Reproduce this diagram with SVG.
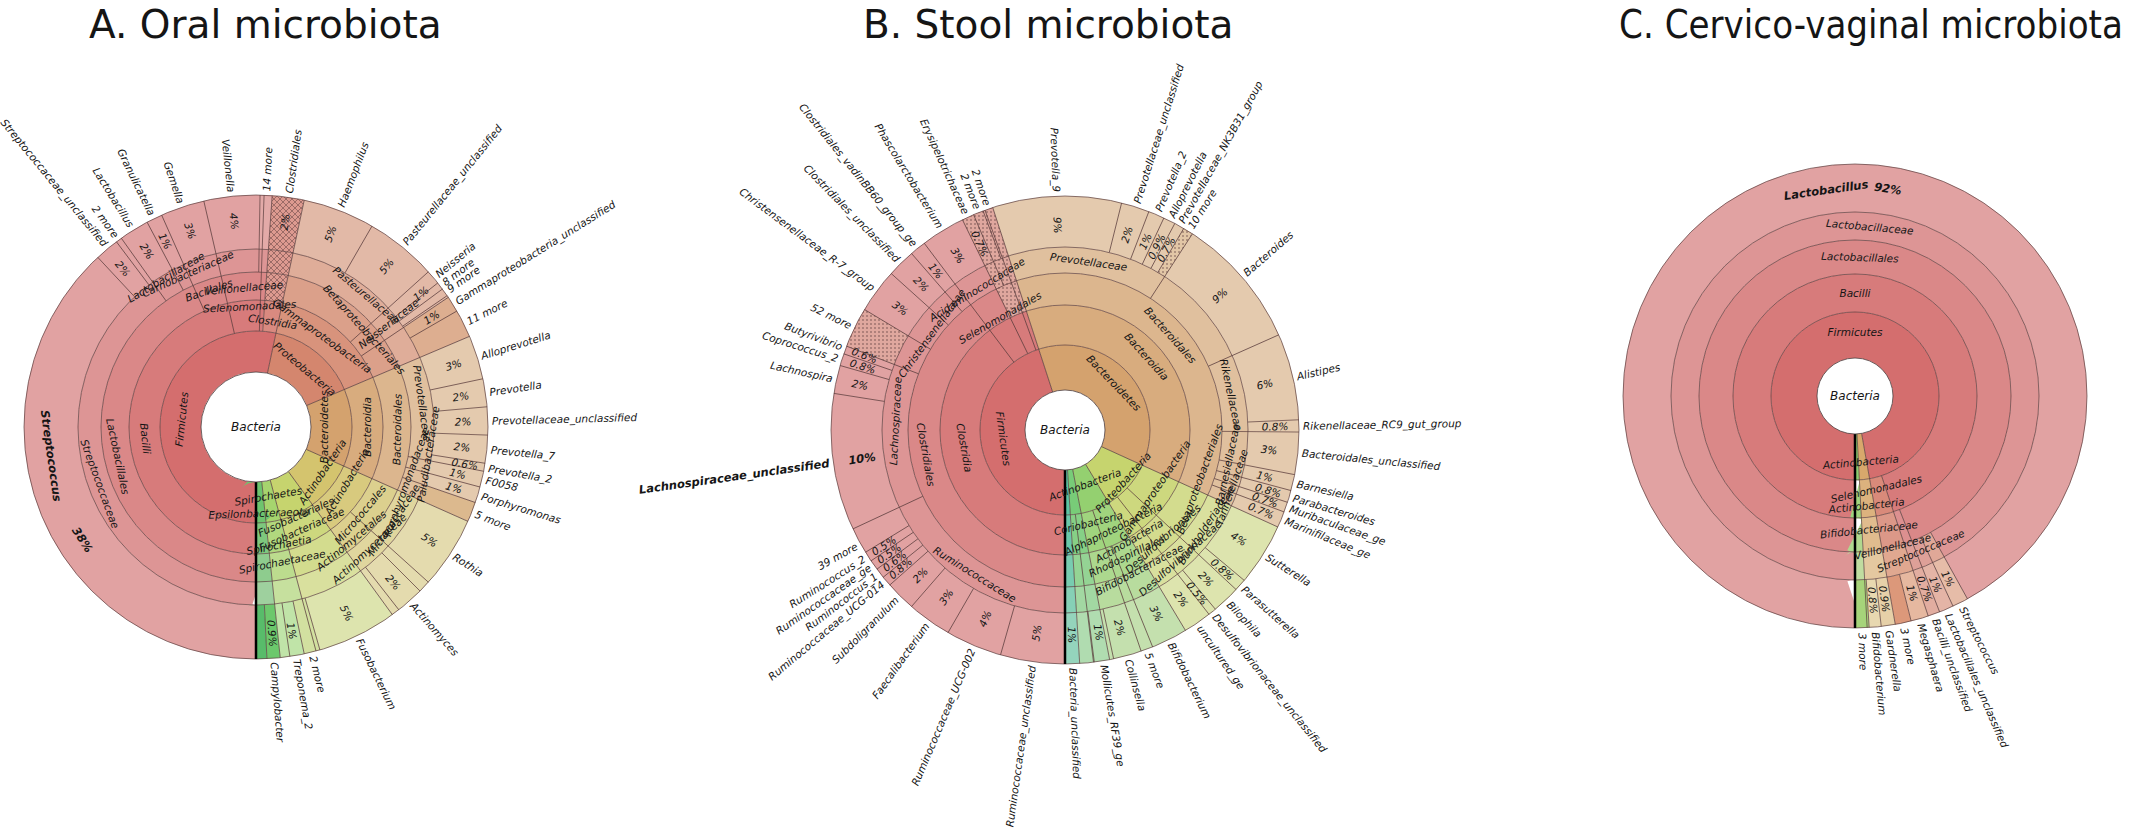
<svg xmlns="http://www.w3.org/2000/svg" width="2154" height="832" viewBox="0 0 2154 832">
<style>
.s{fill:none}
.rl{fill:none;stroke:#5a3c3c;stroke-width:.7}
.sep line{stroke:#5a3c3c;stroke-width:.7}
.hole{fill:#fff;stroke:#4a3a3a;stroke-width:.8}
.start{stroke:#000;stroke-width:2.5}
text{font-family:"DejaVu Sans","Liberation Sans",sans-serif;font-style:italic;font-size:10.5px;fill:#151515;dominant-baseline:central}
.e{text-anchor:end}
.p,.t,.c{text-anchor:middle}
.c{font-size:12px}
.b{font-weight:bold;font-size:11.5px}
.ttl{font-style:normal;font-size:39px;dominant-baseline:auto}
</style>
<defs>
<pattern id="dot" width="4" height="4" patternUnits="userSpaceOnUse"><rect width="4" height="4" fill="#dfa79e"/><circle cx="2" cy="2" r=".7" fill="#5a3c3c"/></pattern>
<pattern id="dotb" width="4" height="4" patternUnits="userSpaceOnUse"><rect width="4" height="4" fill="#e2c6a6"/><circle cx="2" cy="2" r=".7" fill="#5a3c3c"/></pattern>
<pattern id="hatch" width="6" height="6" patternUnits="userSpaceOnUse"><rect width="6" height="6" fill="#dd9a90"/><path d="M0 0L6 6M6 0L0 6" stroke="#5a3c3c" stroke-width=".5"/></pattern>
</defs>

<text class="ttl" x="89" y="38">A. Oral microbiota</text>
<text class="ttl" x="863" y="38">B. Stool microbiota</text>
<text class="ttl" x="1619" y="38" textLength="504" lengthAdjust="spacingAndGlyphs">C. Cervico-vaginal microbiota</text>

<!-- ================= CHART A ================= -->
<g id="chartA" transform="translate(256,427)">
<g id="A-segments">
<circle class="s" pathLength="360" r="75.5" stroke-width="41" stroke="#d46e6e" stroke-dasharray="192 360" stroke-dashoffset="-90"/>
<circle class="s" pathLength="360" r="75.5" stroke-width="41" stroke="#d4866e" stroke-dasharray="55 360" stroke-dashoffset="-282"/>
<circle class="s" pathLength="360" r="75.5" stroke-width="41" stroke="#d4a26e" stroke-dasharray="23 360" stroke-dashoffset="-337"/>
<circle class="s" pathLength="360" r="75.5" stroke-width="41" stroke="#d4a26e" stroke-dasharray="24 360" stroke-dashoffset="0"/>
<circle class="s" pathLength="360" r="75.5" stroke-width="41" stroke="#d4c46e" stroke-dasharray="30 360" stroke-dashoffset="-24"/>
<circle class="s" pathLength="360" r="75.5" stroke-width="41" stroke="#c6d46e" stroke-dasharray="21 360" stroke-dashoffset="-54"/>
<circle class="s" pathLength="360" r="75.5" stroke-width="41" stroke="#a6d46e" stroke-dasharray="9 360" stroke-dashoffset="-75"/>
<circle class="s" pathLength="360" r="75.5" stroke-width="41" stroke="#6ec46e" stroke-dasharray="6 360" stroke-dashoffset="-84"/>

<circle class="s" pathLength="360" r="111.5" stroke-width="31" stroke="#d77b7b" stroke-dasharray="184 360" stroke-dashoffset="-90"/>
<circle class="s" pathLength="360" r="111.5" stroke-width="31" stroke="#d98a80" stroke-dasharray="8 360" stroke-dashoffset="-274"/>
<circle class="s" pathLength="360" r="111.5" stroke-width="31" stroke="#d8937c" stroke-dasharray="55 360" stroke-dashoffset="-282"/>
<circle class="s" pathLength="360" r="111.5" stroke-width="31" stroke="#d8ac7e" stroke-dasharray="23 360" stroke-dashoffset="-337"/>
<circle class="s" pathLength="360" r="111.5" stroke-width="31" stroke="#d8ac7e" stroke-dasharray="24 360" stroke-dashoffset="0"/>
<circle class="s" pathLength="360" r="111.5" stroke-width="31" stroke="#d8ca7e" stroke-dasharray="30 360" stroke-dashoffset="-24"/>
<circle class="s" pathLength="360" r="111.5" stroke-width="31" stroke="#cdd87e" stroke-dasharray="21 360" stroke-dashoffset="-54"/>
<circle class="s" pathLength="360" r="111.5" stroke-width="31" stroke="#b1d87e" stroke-dasharray="9 360" stroke-dashoffset="-75"/>
<circle class="s" pathLength="360" r="111.5" stroke-width="31" stroke="#7ec87e" stroke-dasharray="6 360" stroke-dashoffset="-84"/>

<circle class="s" pathLength="360" r="141" stroke-width="28" stroke="#da8888" stroke-dasharray="184 360" stroke-dashoffset="-90"/>
<circle class="s" pathLength="360" r="141" stroke-width="28" stroke="url(#hatch)" stroke-dasharray="8 360" stroke-dashoffset="-274"/>
<circle class="s" pathLength="360" r="141" stroke-width="28" stroke="#dba08a" stroke-dasharray="55 360" stroke-dashoffset="-282"/>
<circle class="s" pathLength="360" r="141" stroke-width="28" stroke="#dcb68e" stroke-dasharray="23 360" stroke-dashoffset="-337"/>
<circle class="s" pathLength="360" r="141" stroke-width="28" stroke="#dcb68e" stroke-dasharray="24 360" stroke-dashoffset="0"/>
<circle class="s" pathLength="360" r="141" stroke-width="28" stroke="#dcd08e" stroke-dasharray="30 360" stroke-dashoffset="-24"/>
<circle class="s" pathLength="360" r="141" stroke-width="28" stroke="#d3dc8e" stroke-dasharray="21 360" stroke-dashoffset="-54"/>
<circle class="s" pathLength="360" r="141" stroke-width="28" stroke="#bcdc8e" stroke-dasharray="9 360" stroke-dashoffset="-75"/>
<circle class="s" pathLength="360" r="141" stroke-width="28" stroke="#8ecc8e" stroke-dasharray="6 360" stroke-dashoffset="-84"/>

<circle class="s" pathLength="360" r="166.5" stroke-width="23" stroke="#dd9595" stroke-dasharray="184 360" stroke-dashoffset="-90"/>
<circle class="s" pathLength="360" r="166.5" stroke-width="23" stroke="url(#hatch)" stroke-dasharray="8 360" stroke-dashoffset="-274"/>
<circle class="s" pathLength="360" r="166.5" stroke-width="23" stroke="#dfad99" stroke-dasharray="55 360" stroke-dashoffset="-282"/>
<circle class="s" pathLength="360" r="166.5" stroke-width="23" stroke="#e0c09e" stroke-dasharray="23 360" stroke-dashoffset="-337"/>
<circle class="s" pathLength="360" r="166.5" stroke-width="23" stroke="#e0c09e" stroke-dasharray="24 360" stroke-dashoffset="0"/>
<circle class="s" pathLength="360" r="166.5" stroke-width="23" stroke="#e0d69e" stroke-dasharray="30 360" stroke-dashoffset="-24"/>
<circle class="s" pathLength="360" r="166.5" stroke-width="23" stroke="#d9e09e" stroke-dasharray="21 360" stroke-dashoffset="-54"/>
<circle class="s" pathLength="360" r="166.5" stroke-width="23" stroke="#c6e09e" stroke-dasharray="9 360" stroke-dashoffset="-75"/>
<circle class="s" pathLength="360" r="166.5" stroke-width="23" stroke="#9ed09e" stroke-dasharray="6 360" stroke-dashoffset="-84"/>

<circle class="s" pathLength="360" r="205" stroke-width="54" stroke="#e1a2a2" stroke-dasharray="184 360" stroke-dashoffset="-90"/>
<circle class="s" pathLength="360" r="205" stroke-width="54" stroke="#e3aaa8" stroke-dasharray="3 360" stroke-dashoffset="-271"/>
<circle class="s" pathLength="360" r="205" stroke-width="54" stroke="url(#hatch)" stroke-dasharray="8 360" stroke-dashoffset="-274"/>
<circle class="s" pathLength="360" r="205" stroke-width="54" stroke="#e2b9a7" stroke-dasharray="44 360" stroke-dashoffset="-282"/>
<circle class="s" pathLength="360" r="205" stroke-width="54" stroke="#ddae90" stroke-dasharray="11 360" stroke-dashoffset="-326"/>
<circle class="s" pathLength="360" r="205" stroke-width="54" stroke="#e4caae" stroke-dasharray="23 360" stroke-dashoffset="-337"/>
<circle class="s" pathLength="360" r="205" stroke-width="54" stroke="#e4caae" stroke-dasharray="19 360" stroke-dashoffset="0"/>
<circle class="s" pathLength="360" r="205" stroke-width="54" stroke="#dcb98e" stroke-dasharray="5 360" stroke-dashoffset="-19"/>
<circle class="s" pathLength="360" r="205" stroke-width="54" stroke="#e4dbae" stroke-dasharray="30 360" stroke-dashoffset="-24"/>
<circle class="s" pathLength="360" r="205" stroke-width="54" stroke="#dde4ae" stroke-dasharray="20 360" stroke-dashoffset="-54"/>
<circle class="s" pathLength="360" r="205" stroke-width="54" stroke="#d2e0a0" stroke-dasharray="4 360" stroke-dashoffset="-74"/>
<circle class="s" pathLength="360" r="205" stroke-width="54" stroke="#c0e4a8" stroke-dasharray="6 360" stroke-dashoffset="-78"/>
<circle class="s" pathLength="360" r="205" stroke-width="54" stroke="#6cc86c" stroke-dasharray="3.3 360" stroke-dashoffset="-84"/>
<circle class="s" pathLength="360" r="205" stroke-width="54" stroke="#58bc6a" stroke-dasharray="2.7 360" stroke-dashoffset="-87.3"/>
</g>
<g id="A-lines">
<circle class="rl" r="96"/><circle class="rl" r="127"/><circle class="rl" r="155"/><circle class="rl" r="178"/><circle class="rl" r="232"/>
<g class="sep">
<line x1="55" x2="232" transform="rotate(282)"/><line x1="55" x2="232" transform="rotate(337)"/><line x1="55" x2="232" transform="rotate(24)"/><line x1="55" x2="232" transform="rotate(54)"/><line x1="55" x2="232" transform="rotate(75)"/><line x1="55" x2="232" transform="rotate(84)"/>
<line x1="96" x2="232" transform="rotate(257)"/><line x1="96" x2="232" transform="rotate(274)"/><line x1="96" x2="232" transform="rotate(272)"/>
<line x1="127" x2="232" transform="rotate(246)"/><line x1="127" x2="232" transform="rotate(318)"/><line x1="127" x2="232" transform="rotate(326)"/><line x1="127" x2="232" transform="rotate(42)"/>
<line x1="155" x2="232" transform="rotate(234.5)"/><line x1="155" x2="232" transform="rotate(242)"/><line x1="155" x2="232" transform="rotate(371)"/><line x1="155" x2="232" transform="rotate(375)"/><line x1="155" x2="232" transform="rotate(379)"/><line x1="155" x2="232" transform="rotate(271)"/>
<line x1="178" x2="232" transform="rotate(227)"/><line x1="178" x2="232" transform="rotate(233)"/><line x1="178" x2="232" transform="rotate(300)"/><line x1="178" x2="232" transform="rotate(321.6)"/><line x1="178" x2="232" transform="rotate(323.5)"/><line x1="178" x2="232" transform="rotate(325.5)"/><line x1="178" x2="232" transform="rotate(330)"/><line x1="178" x2="232" transform="rotate(348)"/><line x1="178" x2="232" transform="rotate(355)"/><line x1="178" x2="232" transform="rotate(362)"/><line x1="178" x2="232" transform="rotate(369)"/><line x1="178" x2="232" transform="rotate(45)"/><line x1="178" x2="232" transform="rotate(52)"/><line x1="178" x2="232" transform="rotate(74)"/><line x1="178" x2="232" transform="rotate(78)"/><line x1="178" x2="232" transform="rotate(81.6)"/><line x1="178" x2="232" transform="rotate(87.3)"/>
</g>
<line class="start" x1="55" x2="232" transform="rotate(90)"/>
<circle class="hole" r="55"/>
</g>
<g id="A-labels">
<text class="c" x="0" y="0">Bacteria</text>
<text class="t" transform="rotate(186) translate(75) rotate(90)">Firmicutes</text>
<text class="t" transform="rotate(310) translate(76) rotate(90)">Proteobacteria</text>
<text class="t" transform="rotate(0) translate(68) rotate(-90)">Bacteroidetes</text>
<text class="t" transform="rotate(34) translate(80) rotate(-90)">Actinobacteria</text>
<text class="t" transform="rotate(80) translate(70) rotate(-90)">Spirochaetes</text>
<text class="t" transform="rotate(88) translate(86) rotate(-90)">Epsilonbacteraeota</text>
<text class="t" transform="rotate(174) translate(111) rotate(-90)">Bacilli</text>
<text class="t" transform="rotate(267) translate(121) rotate(90)">Selenomonadales</text>
<text class="t" transform="rotate(279) translate(107) rotate(90)">Clostridia</text>
<text class="t" transform="rotate(306) translate(113) rotate(90)">Gammaproteobacteria</text>
<text class="t" transform="rotate(0) translate(111) rotate(-90)">Bacteroidia</text>
<text class="t" transform="rotate(31) translate(106) rotate(-90)">Actinobacteria</text>
<text class="t" transform="rotate(66) translate(98) rotate(-90)">Fusobacteriales</text>
<text class="t" transform="rotate(79) translate(120) rotate(-90)">Spirochaetia</text>
<text class="t" transform="rotate(168) translate(141) rotate(-90)">Lactobacillales</text>
<text class="t" transform="rotate(251) translate(145) rotate(90)">Bacillales</text>
<text class="t" transform="rotate(318) translate(146) rotate(90)">Betaproteobacteriales</text>
<text class="t" transform="rotate(1) translate(141) rotate(-90)">Bacteroidales</text>
<text class="t" transform="rotate(40) translate(136) rotate(-90)">Micrococcales</text>
<text class="t" transform="rotate(50) translate(148) rotate(-90)">Actinomycetales</text>
<text class="t" transform="rotate(66) translate(112) rotate(-90)">Fusobacteriaceae</text>
<text class="t" transform="rotate(79) translate(137) rotate(-90)">Spirochaetaceae</text>
<text class="t" transform="rotate(160) translate(166) rotate(-90)">Streptococcaceae</text>
<text class="t" transform="rotate(239) translate(175) rotate(90)">Lactobacillaceae</text>
<text class="t" transform="rotate(246) translate(168) rotate(90)">Carnobacteriaceae</text>
<text class="t" transform="rotate(265) translate(140) rotate(90)">Veillonellaceae</text>
<text class="t" transform="rotate(310) translate(172) rotate(90)">Pasteurellaceae</text>
<text class="p" transform="rotate(322) translate(168)">Neisseriaceae</text>
<text class="t" transform="rotate(352) translate(168) rotate(90)">Prevotellaceae</text>
<text class="t" transform="rotate(9) translate(174) rotate(-90)">Paludibacteraceae</text>
<text class="t" transform="rotate(20) translate(160) rotate(-90)">Porphyromonadaceae</text>
<text class="t" transform="rotate(34) translate(166) rotate(-90)">Micrococcaceae</text>
<text class="t" transform="rotate(47) translate(166) rotate(-90)">Actinomycetaceae</text>
<text class="t b" transform="rotate(172) translate(207) rotate(-90)">Streptococcus</text>
<text class="t b" transform="rotate(147) translate(207) rotate(-90)">38%</text>
<text class="p" transform="rotate(230) translate(207) rotate(180)">2%</text>
<text class="p" transform="rotate(238.2) translate(207) rotate(180)">2%</text>
<text class="p" transform="rotate(244) translate(207) rotate(180)">1%</text>
<text class="p" transform="rotate(251.5) translate(207) rotate(180)">3%</text>
<text class="p" transform="rotate(264) translate(207) rotate(180)">4%</text>
<text class="p" transform="rotate(278) translate(207)">2%</text>
<text class="p" transform="rotate(291) translate(207)">5%</text>
<text class="p" transform="rotate(309) translate(207)">5%</text>
<text class="p" transform="rotate(321) translate(212)">1%</text>
<text class="p" transform="rotate(328) translate(207)">1%</text>
<text class="p" transform="rotate(342.5) translate(207)">3%</text>
<text class="p" transform="rotate(351.5) translate(207)">2%</text>
<text class="p" transform="rotate(358.5) translate(207)">2%</text>
<text class="p" transform="rotate(5.5) translate(207)">2%</text>
<text class="p" transform="rotate(10) translate(212)">0.6%</text>
<text class="p" transform="rotate(13) translate(207)">1%</text>
<text class="p" transform="rotate(17) translate(207)">1%</text>
<text class="p" transform="rotate(33) translate(207)">5%</text>
<text class="p" transform="rotate(48.5) translate(207)">2%</text>
<text class="p" transform="rotate(64) translate(207)">5%</text>
<text class="p" transform="rotate(80) translate(207)">1%</text>
<text class="p" transform="rotate(85.5) translate(207)">0.9%</text>
<text class="e" transform="rotate(230.5) translate(236) rotate(180)">Streptococcaceae_unclassified</text>
<text class="e" transform="rotate(233.8) translate(236) rotate(180)">2 more</text>
<text class="e" transform="rotate(238.2) translate(236) rotate(180)">Lactobacillus</text>
<text class="e" transform="rotate(244) translate(236) rotate(180)">Granulicatella</text>
<text class="e" transform="rotate(251.5) translate(236) rotate(180)">Gemella</text>
<text class="e" transform="rotate(264) translate(236) rotate(180)">Veillonella</text>
<text transform="rotate(272.5) translate(236)">14 more</text>
<text transform="rotate(278) translate(236)">Clostridiales</text>
<text transform="rotate(291) translate(236)">Haemophilus</text>
<text transform="rotate(309) translate(236)">Pasteurellaceae_unclassified</text>
<text transform="rotate(320) translate(236)">Neisseria</text>
<text transform="rotate(322.5) translate(236)">8 more</text>
<text transform="rotate(324.5) translate(236)">9 more</text>
<text transform="rotate(328) translate(236)">Gammaproteobacteria_unclassified</text>
<text transform="rotate(333.5) translate(236)">11 more</text>
<text transform="rotate(342.5) translate(236)">Alloprevotella</text>
<text transform="rotate(351.5) translate(236)">Prevotella</text>
<text transform="rotate(358.5) translate(236)">Prevotellaceae_unclassified</text>
<text transform="rotate(5.5) translate(236)">Prevotella_7</text>
<text transform="rotate(10) translate(236)">Prevotella_2</text>
<text transform="rotate(13) translate(236)">F0058</text>
<text transform="rotate(17) translate(236)">Porphyromonas</text>
<text transform="rotate(21.5) translate(236)">5 more</text>
<text transform="rotate(33) translate(236)">Rothia</text>
<text transform="rotate(48.5) translate(236)">Actinomyces</text>
<text transform="rotate(64) translate(236)">Fusobacterium</text>
<text transform="rotate(76) translate(236)">2 more</text>
<text transform="rotate(80) translate(236)">Treponema_2</text>
<text transform="rotate(85.5) translate(236)">Campylobacter</text>
</g>
</g>

<!-- ================= CHART B ================= -->
<g id="chartB" transform="translate(1065,430)">
<g id="B-segments">
<circle class="s" pathLength="360" r="62.5" stroke-width="45" stroke="#d46e6e" stroke-dasharray="162 360" stroke-dashoffset="-90"/>
<circle class="s" pathLength="360" r="62.5" stroke-width="45" stroke="#d4a26e" stroke-dasharray="108 360" stroke-dashoffset="-252"/>
<circle class="s" pathLength="360" r="62.5" stroke-width="45" stroke="#d4a26e" stroke-dasharray="24.5 360" stroke-dashoffset="0"/>
<circle class="s" pathLength="360" r="62.5" stroke-width="45" stroke="#c6d46e" stroke-dasharray="34.5 360" stroke-dashoffset="-24.5"/>
<circle class="s" pathLength="360" r="62.5" stroke-width="45" stroke="#94d070" stroke-dasharray="20 360" stroke-dashoffset="-59"/>
<circle class="s" pathLength="360" r="62.5" stroke-width="45" stroke="#78cc78" stroke-dasharray="7.4 360" stroke-dashoffset="-79"/>
<circle class="s" pathLength="360" r="62.5" stroke-width="45" stroke="#5cc4a4" stroke-dasharray="3.6 360" stroke-dashoffset="-86.4"/>

<circle class="s" pathLength="360" r="105" stroke-width="40" stroke="#d77b7b" stroke-dasharray="162 360" stroke-dashoffset="-90"/>
<circle class="s" pathLength="360" r="105" stroke-width="40" stroke="#d8ac7e" stroke-dasharray="108 360" stroke-dashoffset="-252"/>
<circle class="s" pathLength="360" r="105" stroke-width="40" stroke="#d8ac7e" stroke-dasharray="24.5 360" stroke-dashoffset="0"/>
<circle class="s" pathLength="360" r="105" stroke-width="40" stroke="#cdd87e" stroke-dasharray="34.5 360" stroke-dashoffset="-24.5"/>
<circle class="s" pathLength="360" r="105" stroke-width="40" stroke="#a0d47e" stroke-dasharray="20 360" stroke-dashoffset="-59"/>
<circle class="s" pathLength="360" r="105" stroke-width="40" stroke="#86d086" stroke-dasharray="7.4 360" stroke-dashoffset="-79"/>
<circle class="s" pathLength="360" r="105" stroke-width="40" stroke="#6ac8aa" stroke-dasharray="3.6 360" stroke-dashoffset="-86.4"/>

<circle class="s" pathLength="360" r="141" stroke-width="32" stroke="#da8888" stroke-dasharray="162 360" stroke-dashoffset="-90"/>
<circle class="s" pathLength="360" r="141" stroke-width="32" stroke="url(#dot)" stroke-dasharray="8 360" stroke-dashoffset="-244"/>
<circle class="s" pathLength="360" r="141" stroke-width="32" stroke="#dcb68e" stroke-dasharray="108 360" stroke-dashoffset="-252"/>
<circle class="s" pathLength="360" r="141" stroke-width="32" stroke="#dcb68e" stroke-dasharray="24.5 360" stroke-dashoffset="0"/>
<circle class="s" pathLength="360" r="141" stroke-width="32" stroke="#d3dc8e" stroke-dasharray="34.5 360" stroke-dashoffset="-24.5"/>
<circle class="s" pathLength="360" r="141" stroke-width="32" stroke="#acd88e" stroke-dasharray="20 360" stroke-dashoffset="-59"/>
<circle class="s" pathLength="360" r="141" stroke-width="32" stroke="#94d494" stroke-dasharray="7.4 360" stroke-dashoffset="-79"/>
<circle class="s" pathLength="360" r="141" stroke-width="32" stroke="#78ccb0" stroke-dasharray="3.6 360" stroke-dashoffset="-86.4"/>

<circle class="s" pathLength="360" r="170" stroke-width="26" stroke="#dd9595" stroke-dasharray="162 360" stroke-dashoffset="-90"/>
<circle class="s" pathLength="360" r="170" stroke-width="26" stroke="url(#dot)" stroke-dasharray="8 360" stroke-dashoffset="-244"/>
<circle class="s" pathLength="360" r="170" stroke-width="26" stroke="#e0c09e" stroke-dasharray="108 360" stroke-dashoffset="-252"/>
<circle class="s" pathLength="360" r="170" stroke-width="26" stroke="#e0c09e" stroke-dasharray="24.5 360" stroke-dashoffset="0"/>
<circle class="s" pathLength="360" r="170" stroke-width="26" stroke="#d9e09e" stroke-dasharray="34.5 360" stroke-dashoffset="-24.5"/>
<circle class="s" pathLength="360" r="170" stroke-width="26" stroke="#b8dc9e" stroke-dasharray="20 360" stroke-dashoffset="-59"/>
<circle class="s" pathLength="360" r="170" stroke-width="26" stroke="#a2d8a2" stroke-dasharray="7.4 360" stroke-dashoffset="-79"/>
<circle class="s" pathLength="360" r="170" stroke-width="26" stroke="#86d0b6" stroke-dasharray="3.6 360" stroke-dashoffset="-86.4"/>

<circle class="s" pathLength="360" r="208.5" stroke-width="51" stroke="#e1a2a2" stroke-dasharray="162 360" stroke-dashoffset="-90"/>
<circle class="s" pathLength="360" r="208.5" stroke-width="51" stroke="url(#dot)" stroke-dasharray="10 360" stroke-dashoffset="-201"/>
<circle class="s" pathLength="360" r="208.5" stroke-width="51" stroke="url(#dot)" stroke-dasharray="8 360" stroke-dashoffset="-244"/>
<circle class="s" pathLength="360" r="208.5" stroke-width="51" stroke="#e4caae" stroke-dasharray="108 360" stroke-dashoffset="-252"/>
<circle class="s" pathLength="360" r="208.5" stroke-width="51" stroke="#e4caae" stroke-dasharray="24.5 360" stroke-dashoffset="0"/>
<circle class="s" pathLength="360" r="208.5" stroke-width="51" stroke="url(#dotb)" stroke-dasharray="2.5 360" stroke-dashoffset="-300.5"/>
<circle class="s" pathLength="360" r="208.5" stroke-width="51" stroke="#dde4ae" stroke-dasharray="34.5 360" stroke-dashoffset="-24.5"/>
<circle class="s" pathLength="360" r="208.5" stroke-width="51" stroke="#c4e0ae" stroke-dasharray="20 360" stroke-dashoffset="-59"/>
<circle class="s" pathLength="360" r="208.5" stroke-width="51" stroke="#b0dcb0" stroke-dasharray="7.4 360" stroke-dashoffset="-79"/>
<circle class="s" pathLength="360" r="208.5" stroke-width="51" stroke="#94d4bc" stroke-dasharray="3.6 360" stroke-dashoffset="-86.4"/>
</g>
<g id="B-lines">
<circle class="rl" r="85"/><circle class="rl" r="125"/><circle class="rl" r="157"/><circle class="rl" r="183"/><circle class="rl" r="234"/>
<g class="sep">
<line x1="40" x2="234" transform="rotate(252)"/><line x1="40" x2="234" transform="rotate(24.5)"/><line x1="40" x2="234" transform="rotate(59)"/><line x1="40" x2="234" transform="rotate(79)"/><line x1="40" x2="234" transform="rotate(86.4)"/>
<line x1="85" x2="234" transform="rotate(233)"/><line x1="85" x2="234" transform="rotate(244)"/><line x1="85" x2="234" transform="rotate(250)"/><line x1="85" x2="234" transform="rotate(43)"/><line x1="85" x2="234" transform="rotate(52)"/><line x1="85" x2="234" transform="rotate(71)"/><line x1="85" x2="234" transform="rotate(83)"/>
<line x1="125" x2="234" transform="rotate(68)"/>
<line x1="157" x2="234" transform="rotate(155)"/><line x1="157" x2="234" transform="rotate(201)"/><line x1="157" x2="234" transform="rotate(211)"/><line x1="157" x2="234" transform="rotate(222)"/><line x1="157" x2="234" transform="rotate(229)"/><line x1="157" x2="234" transform="rotate(247)"/><line x1="157" x2="234" transform="rotate(303)"/><line x1="157" x2="234" transform="rotate(336)"/><line x1="157" x2="234" transform="rotate(360.5)"/><line x1="157" x2="234" transform="rotate(371)"/><line x1="157" x2="234" transform="rotate(375)"/><line x1="157" x2="234" transform="rotate(378)"/><line x1="157" x2="234" transform="rotate(380.5)"/>
<line x1="183" x2="234" transform="rotate(106)"/><line x1="183" x2="234" transform="rotate(120)"/><line x1="183" x2="234" transform="rotate(131)"/><line x1="183" x2="234" transform="rotate(138.5)"/><line x1="183" x2="234" transform="rotate(141)"/><line x1="183" x2="234" transform="rotate(143.5)"/><line x1="183" x2="234" transform="rotate(146)"/><line x1="183" x2="234" transform="rotate(148.5)"/><line x1="183" x2="234" transform="rotate(189)"/><line x1="183" x2="234" transform="rotate(196)"/><line x1="183" x2="234" transform="rotate(199)"/><line x1="183" x2="234" transform="rotate(249.5)"/><line x1="183" x2="234" transform="rotate(284)"/><line x1="183" x2="234" transform="rotate(291)"/><line x1="183" x2="234" transform="rotate(295)"/><line x1="183" x2="234" transform="rotate(298)"/><line x1="183" x2="234" transform="rotate(300.5)"/><line x1="183" x2="234" transform="rotate(357.5)"/><line x1="183" x2="234" transform="rotate(40)"/><line x1="183" x2="234" transform="rotate(50)"/><line x1="183" x2="234" transform="rotate(78)"/><line x1="183" x2="234" transform="rotate(82.8)"/>
</g>
<line class="start" x1="40" x2="234" transform="rotate(90)"/>
<circle class="hole" r="40"/>
</g>
<g id="B-labels">
<text class="c" x="0" y="0">Bacteria</text>
<text class="t" transform="rotate(172) translate(62) rotate(-90)">Firmicutes</text>
<text class="t" transform="rotate(316) translate(68) rotate(90)">Bacteroidetes</text>
<text class="t" transform="rotate(42) translate(78) rotate(-90)">Proteobacteria</text>
<text class="t" transform="rotate(70) translate(58) rotate(-90)">Actinobacteria</text>
<text class="t" transform="rotate(170) translate(102) rotate(-90)">Clostridia</text>
<text class="t" transform="rotate(318) translate(110) rotate(90)">Bacteroidia</text>
<text class="t" transform="rotate(34) translate(108) rotate(-90)">Gammaproteobacteria</text>
<text class="t" transform="rotate(64) translate(110) rotate(-90)">Alphaproteobacteria</text>
<text class="t" transform="rotate(76) translate(96) rotate(-90)">Coriobacteria</text>
<text class="t" transform="rotate(170) translate(141) rotate(-90)">Clostridiales</text>
<text class="t" transform="rotate(240) translate(130) rotate(90)">Selenomonadales</text>
<text class="t" transform="rotate(318) translate(142) rotate(90)">Bacteroidales</text>
<text class="t" transform="rotate(20) translate(143) rotate(-90)">Betaproteobacteriales</text>
<text class="t" transform="rotate(48) translate(146) rotate(-90)">Desulfovibrionales</text>
<text class="t" transform="rotate(60) translate(128) rotate(-90)">Actinobacteria</text>
<text class="t" transform="rotate(64) translate(140) rotate(-90)">Rhodospirillales</text>
<text class="t" transform="rotate(122) translate(170) rotate(-90)">Ruminococcaceae</text>
<text class="t" transform="rotate(183) translate(170) rotate(90)">Lachnospiraceae</text>
<text class="t" transform="rotate(216) translate(165) rotate(90)">Christensenellaceae</text>
<text class="t" transform="rotate(238) translate(166) rotate(90)">Acidaminococcaceae</text>
<text class="t" transform="rotate(278) translate(170) rotate(90)">Prevotellaceae</text>
<text class="t" transform="rotate(348) translate(170) rotate(90)">Rikenellaceae</text>
<text class="t" transform="rotate(12) translate(166) rotate(-90)">Barnesiellaceae</text>
<text class="t" transform="rotate(19) translate(176) rotate(-90)">Tannerellaceae</text>
<text class="t" transform="rotate(34) translate(170) rotate(-90)">Burkholderiaceae</text>
<text class="t" transform="rotate(48) translate(172) rotate(-90)">Desulfovibrionaceae</text>
<text class="t" transform="rotate(62) translate(158) rotate(-90)">Bifidobacteriaceae</text>
<text class="p" transform="rotate(98) translate(205) rotate(180)">5%</text>
<text class="p" transform="rotate(113) translate(205) rotate(180)">4%</text>
<text class="p" transform="rotate(125.5) translate(205) rotate(180)">3%</text>
<text class="p" transform="rotate(135) translate(205) rotate(180)">2%</text>
<text class="p" transform="rotate(140) translate(215) rotate(180)">0.8%</text>
<text class="p" transform="rotate(142.5) translate(215) rotate(180)">0.6%</text>
<text class="p" transform="rotate(145) translate(215) rotate(180)">0.5%</text>
<text class="p" transform="rotate(147.5) translate(215) rotate(180)">0.5%</text>
<text class="p b" transform="rotate(172) translate(205) rotate(180)">10%</text>
<text class="p" transform="rotate(192.5) translate(210) rotate(180)">2%</text>
<text class="p" transform="rotate(197.5) translate(212) rotate(180)">0.8%</text>
<text class="p" transform="rotate(200.5) translate(214) rotate(180)">0.6%</text>
<text class="p" transform="rotate(216.5) translate(205) rotate(180)">3%</text>
<text class="p" transform="rotate(225.5) translate(205) rotate(180)">2%</text>
<text class="p" transform="rotate(231) translate(205) rotate(180)">1%</text>
<text class="p" transform="rotate(238.5) translate(205) rotate(180)">3%</text>
<text class="p" transform="rotate(245.5) translate(205) rotate(180)">0.7%</text>
<text class="p" transform="rotate(268) translate(205) rotate(180)">9%</text>
<text class="p" transform="rotate(287.5) translate(205)">2%</text>
<text class="p" transform="rotate(293) translate(205)">1%</text>
<text class="p" transform="rotate(296.5) translate(205)">0.9%</text>
<text class="p" transform="rotate(299.2) translate(207)">0.7%</text>
<text class="p" transform="rotate(319) translate(205)">9%</text>
<text class="p" transform="rotate(347) translate(205)">6%</text>
<text class="p" transform="rotate(359) translate(210)">0.8%</text>
<text class="p" transform="rotate(5.5) translate(205)">3%</text>
<text class="p" transform="rotate(13) translate(205)">1%</text>
<text class="p" transform="rotate(16.5) translate(212)">0.8%</text>
<text class="p" transform="rotate(19.2) translate(212)">0.7%</text>
<text class="p" transform="rotate(22.3) translate(212)">0.7%</text>
<text class="p" transform="rotate(32) translate(205)">4%</text>
<text class="p" transform="rotate(41.5) translate(210)">0.8%</text>
<text class="p" transform="rotate(46.5) translate(205)">2%</text>
<text class="p" transform="rotate(51) translate(210)">0.5%</text>
<text class="p" transform="rotate(55.5) translate(205)">2%</text>
<text class="p" transform="rotate(63.5) translate(205)">3%</text>
<text class="p" transform="rotate(74.5) translate(205)">2%</text>
<text class="p" transform="rotate(80.5) translate(205)">1%</text>
<text class="p" transform="rotate(88) translate(205)">1%</text>
<text class="e" transform="rotate(98) translate(238) rotate(180)">Ruminococcaceae_unclassified</text>
<text class="e" transform="rotate(113) translate(238) rotate(180)">Ruminococcaceae_UCG-002</text>
<text class="e" transform="rotate(125.5) translate(238) rotate(180)">Faecalibacterium</text>
<text class="e" transform="rotate(135) translate(238) rotate(180)">Subdoligranulum</text>
<text class="e" transform="rotate(140) translate(238) rotate(180)">Ruminococcaceae_UCG-014</text>
<text class="e" transform="rotate(142.5) translate(238) rotate(180)">Ruminococcus_1</text>
<text class="e" transform="rotate(145) translate(238) rotate(180)">Ruminococcaceae_ge</text>
<text class="e" transform="rotate(147.5) translate(238) rotate(180)">Ruminococcus_2</text>
<text class="e" transform="rotate(151) translate(238) rotate(180)">39 more</text>
<text class="e b" transform="rotate(172) translate(238) rotate(180)">Lachnospiraceae_unclassified</text>
<text class="e" transform="rotate(192.5) translate(238) rotate(180)">Lachnospira</text>
<text class="e" transform="rotate(197.5) translate(238) rotate(180)">Coprococcus_2</text>
<text class="e" transform="rotate(200.5) translate(238) rotate(180)">Butyrivibrio</text>
<text class="e" transform="rotate(206) translate(238) rotate(180)">52 more</text>
<text class="e" transform="rotate(216.5) translate(238) rotate(180)">Christensenellaceae_R-7_group</text>
<text class="e" transform="rotate(225.5) translate(238) rotate(180)">Clostridiales_unclassified</text>
<text class="e" transform="rotate(231) translate(238) rotate(180)">Clostridiales_vadinBB60_group_ge</text>
<text class="e" transform="rotate(238.5) translate(238) rotate(180)">Phascolarctobacterium</text>
<text class="e" transform="rotate(245.5) translate(238) rotate(180)">Erysipelotrichaceae</text>
<text class="e" transform="rotate(248.5) translate(238) rotate(180)">2 more</text>
<text class="e" transform="rotate(251) translate(238) rotate(180)">2 more</text>
<text class="e" transform="rotate(268) translate(238) rotate(180)">Prevotella_9</text>
<text transform="rotate(287.5) translate(238)">Prevotellaceae_unclassified</text>
<text transform="rotate(293) translate(238)">Prevotella_2</text>
<text transform="rotate(296.5) translate(238)">Alloprevotella</text>
<text transform="rotate(299.2) translate(238)">Prevotellaceae_NK3B31_group</text>
<text transform="rotate(301.8) translate(238)">10 more</text>
<text transform="rotate(319) translate(238)">Bacteroides</text>
<text transform="rotate(347) translate(238)">Alistipes</text>
<text transform="rotate(359) translate(238)">Rikenellaceae_RC9_gut_group</text>
<text transform="rotate(5.5) translate(238)">Bacteroidales_unclassified</text>
<text transform="rotate(13) translate(238)">Barnesiella</text>
<text transform="rotate(16.5) translate(238)">Parabacteroides</text>
<text transform="rotate(19.2) translate(238)">Muribaculaceae_ge</text>
<text transform="rotate(22.3) translate(238)">Marinifilaceae_ge</text>
<text transform="rotate(32) translate(238)">Sutterella</text>
<text transform="rotate(41.5) translate(238)">Parasutterella</text>
<text transform="rotate(46.5) translate(238)">Bilophila</text>
<text transform="rotate(51) translate(238)">Desulfovibrionaceae_unclassified</text>
<text transform="rotate(55.5) translate(238)">uncultured_ge</text>
<text transform="rotate(63.5) translate(238)">Bifidobacterium</text>
<text transform="rotate(69.5) translate(238)">5 more</text>
<text transform="rotate(74.5) translate(238)">Collinsella</text>
<text transform="rotate(80.5) translate(238)">Mollicutes_RF39_ge</text>
<text transform="rotate(88) translate(238)">Bacteria_unclassified</text>
</g>
</g>

<!-- ================= CHART C ================= -->
<g id="chartC" transform="translate(1855,396)">
<g id="C-segments">
<circle class="s" pathLength="360" r="61" stroke-width="46" stroke="#d46e6e" stroke-dasharray="270 360" stroke-dashoffset="-90"/>
<circle class="s" pathLength="360" r="61" stroke-width="46" stroke="#d46e6e" stroke-dasharray="80 360" stroke-dashoffset="0"/>
<circle class="s" pathLength="360" r="61" stroke-width="46" stroke="#d8a86c" stroke-dasharray="7 360" stroke-dashoffset="-80"/>
<circle class="s" pathLength="360" r="61" stroke-width="46" stroke="#8ccc6e" stroke-dasharray="3 360" stroke-dashoffset="-87"/>

<circle class="s" pathLength="360" r="103" stroke-width="38" stroke="#d77b7b" stroke-dasharray="270 360" stroke-dashoffset="-90"/>
<circle class="s" pathLength="360" r="103" stroke-width="38" stroke="#d77b7b" stroke-dasharray="71.6 360" stroke-dashoffset="0"/>
<circle class="s" pathLength="360" r="103" stroke-width="38" stroke="#d98a7a" stroke-dasharray="8.4 360" stroke-dashoffset="-71.6"/>
<circle class="s" pathLength="360" r="103" stroke-width="38" stroke="#dcb27e" stroke-dasharray="7 360" stroke-dashoffset="-80"/>
<circle class="s" pathLength="360" r="103" stroke-width="38" stroke="#a0d47e" stroke-dasharray="3 360" stroke-dashoffset="-87"/>

<circle class="s" pathLength="360" r="139" stroke-width="34" stroke="#da8888" stroke-dasharray="270 360" stroke-dashoffset="-90"/>
<circle class="s" pathLength="360" r="139" stroke-width="34" stroke="#da8888" stroke-dasharray="68.6 360" stroke-dashoffset="0"/>
<circle class="s" pathLength="360" r="139" stroke-width="34" stroke="#dc9090" stroke-dasharray="3 360" stroke-dashoffset="-68.6"/>
<circle class="s" pathLength="360" r="139" stroke-width="34" stroke="#dc9888" stroke-dasharray="8.4 360" stroke-dashoffset="-71.6"/>
<circle class="s" pathLength="360" r="139" stroke-width="34" stroke="#e0bc8e" stroke-dasharray="7 360" stroke-dashoffset="-80"/>
<circle class="s" pathLength="360" r="139" stroke-width="34" stroke="#b0d88e" stroke-dasharray="3 360" stroke-dashoffset="-87"/>

<circle class="s" pathLength="360" r="170" stroke-width="28" stroke="#dd9595" stroke-dasharray="270 360" stroke-dashoffset="-90"/>
<circle class="s" pathLength="360" r="170" stroke-width="28" stroke="#dd9595" stroke-dasharray="61 360" stroke-dashoffset="0"/>
<circle class="s" pathLength="360" r="170" stroke-width="28" stroke="#e0a898" stroke-dasharray="4 360" stroke-dashoffset="-61"/>
<circle class="s" pathLength="360" r="170" stroke-width="28" stroke="#dea098" stroke-dasharray="6.6 360" stroke-dashoffset="-65"/>
<circle class="s" pathLength="360" r="170" stroke-width="28" stroke="#e0a890" stroke-dasharray="8.4 360" stroke-dashoffset="-71.6"/>
<circle class="s" pathLength="360" r="170" stroke-width="28" stroke="#e4c8a0" stroke-dasharray="7 360" stroke-dashoffset="-80"/>
<circle class="s" pathLength="360" r="170" stroke-width="28" stroke="#c0dca0" stroke-dasharray="3 360" stroke-dashoffset="-87"/>

<circle class="s" pathLength="360" r="208" stroke-width="48" stroke="#e1a2a2" stroke-dasharray="270 360" stroke-dashoffset="-90"/>
<circle class="s" pathLength="360" r="208" stroke-width="48" stroke="#e1a2a2" stroke-dasharray="61 360" stroke-dashoffset="0"/>
<circle class="s" pathLength="360" r="208" stroke-width="48" stroke="#e6bca8" stroke-dasharray="4 360" stroke-dashoffset="-61"/>
<circle class="s" pathLength="360" r="208" stroke-width="48" stroke="#e4b4a6" stroke-dasharray="3.6 360" stroke-dashoffset="-65"/>
<circle class="s" pathLength="360" r="208" stroke-width="48" stroke="#e2ada0" stroke-dasharray="3 360" stroke-dashoffset="-68.6"/>
<circle class="s" pathLength="360" r="208" stroke-width="48" stroke="#e6b8a0" stroke-dasharray="4.4 360" stroke-dashoffset="-71.6"/>
<circle class="s" pathLength="360" r="208" stroke-width="48" stroke="#dc987a" stroke-dasharray="4 360" stroke-dashoffset="-76"/>
<circle class="s" pathLength="360" r="208" stroke-width="48" stroke="#e6d0a8" stroke-dasharray="3.5 360" stroke-dashoffset="-80"/>
<circle class="s" pathLength="360" r="208" stroke-width="48" stroke="#e8d8b0" stroke-dasharray="3 360" stroke-dashoffset="-83.5"/>
<circle class="s" pathLength="360" r="208" stroke-width="48" stroke="#a6d47a" stroke-dasharray="3.5 360" stroke-dashoffset="-86.5"/>
</g>
<g id="C-lines">
<circle class="rl" r="84"/><circle class="rl" r="122"/><circle class="rl" r="156"/><circle class="rl" r="184"/><circle class="rl" r="232"/>
<g class="sep">
<line x1="38" x2="232" transform="rotate(80)"/><line x1="38" x2="232" transform="rotate(87)"/>
<line x1="84" x2="232" transform="rotate(71.6)"/>
<line x1="122" x2="232" transform="rotate(68.6)"/>
<line x1="156" x2="232" transform="rotate(61)"/><line x1="156" x2="232" transform="rotate(65)"/>
<line x1="184" x2="232" transform="rotate(76)"/><line x1="184" x2="232" transform="rotate(83.5)"/><line x1="184" x2="232" transform="rotate(86.5)"/>
</g>
<line class="start" x1="38" x2="232" transform="rotate(90)"/>
<circle class="hole" r="38"/>
</g>
<g id="C-labels">
<text class="c" x="0" y="0">Bacteria</text>
<text class="t" transform="rotate(270) translate(64) rotate(90)">Firmicutes</text>
<text class="t" transform="rotate(270) translate(103) rotate(90)">Bacilli</text>
<text class="t" transform="rotate(272) translate(139) rotate(90)">Lactobacillales</text>
<text class="t" transform="rotate(275) translate(170) rotate(90)">Lactobacillaceae</text>
<text class="t b" transform="rotate(262) translate(208) rotate(90)">Lactobacillus</text>
<text class="t b" transform="rotate(279) translate(210) rotate(90)">92%</text>
<text class="t" transform="rotate(85) translate(66) rotate(-90)">Actinobacteria</text>
<text class="t" transform="rotate(77) translate(95) rotate(-90)">Selenomonadales</text>
<text class="t" transform="rotate(84) translate(110) rotate(-90)">Actinobacteria</text>
<text class="t" transform="rotate(84) translate(134) rotate(-90)">Bifidobacteriaceae</text>
<text class="t" transform="rotate(76) translate(155) rotate(-90)">Veillonellaceae</text>
<text class="t" transform="rotate(67) translate(168) rotate(-90)">Streptococcaceae</text>
<text class="p" transform="rotate(63) translate(205)">1%</text>
<text class="p" transform="rotate(66.8) translate(205)">1%</text>
<text class="p" transform="rotate(70.1) translate(205)">0.7%</text>
<text class="p" transform="rotate(73.8) translate(205)">1%</text>
<text class="p" transform="rotate(81.7) translate(205)">0.9%</text>
<text class="p" transform="rotate(85) translate(205)">0.8%</text>
<text transform="rotate(63) translate(237)">Streptococcus</text>
<text transform="rotate(66.8) translate(237)">Lactobacillales_unclassified</text>
<text transform="rotate(70.1) translate(237)">Bacilli_unclassified</text>
<text transform="rotate(73.8) translate(237)">Megasphaera</text>
<text transform="rotate(78) translate(237)">3 more</text>
<text transform="rotate(81.7) translate(237)">Gardnerella</text>
<text transform="rotate(85) translate(237)">Bifidobacterium</text>
<text transform="rotate(88.2) translate(237)">3 more</text>
</g>
</g>
</svg>
